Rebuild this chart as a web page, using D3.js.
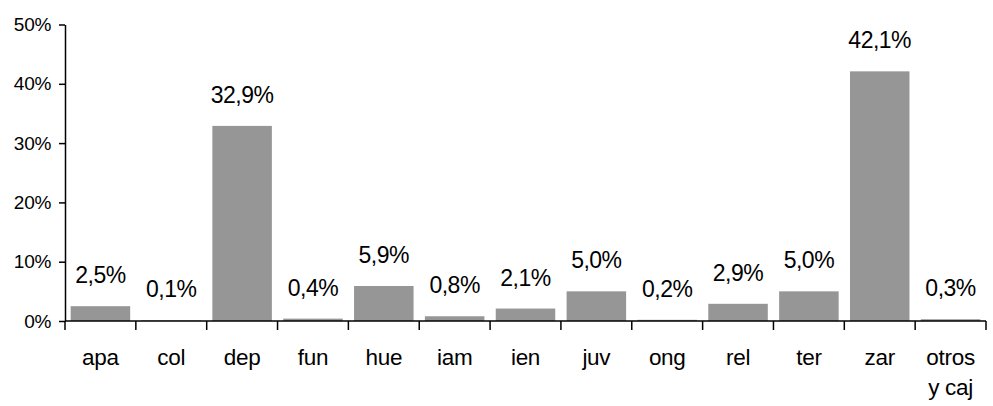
<!DOCTYPE html>
<html>
<head>
<meta charset="utf-8">
<script src="https://cdn.jsdelivr.net/npm/d3@7"></script>
<style>
    body { margin: 0; background: #fff; }
    text { font-family: "Liberation Sans", Arial, sans-serif; fill: #000; }
</style>
</head>
<body>
<svg id="chart" width="993" height="406"></svg>
<script>
const categories = ['apa', 'col', 'dep', 'fun', 'hue', 'iam', 'ien', 'juv', 'ong', 'rel', 'ter', 'zar', 'otros\ny caj'];
const values = [2.5, 0.1, 32.9, 0.4, 5.9, 0.8, 2.1, 5.0, 0.2, 2.9, 5.0, 42.1, 0.3];
const yTicks = [0, 10, 20, 30, 40, 50];

const MARGIN = {top: 24.5, right: 7, bottom: 85, left: 65};
const WIDTH = 993, HEIGHT = 406;

const svg = d3.select('#chart');

const xScale = d3.scaleBand()
    .domain(categories)
    .range([MARGIN.left, WIDTH - MARGIN.right])
    .paddingInner(0.16)
    .paddingOuter(0.08);

const yScale = d3.scaleLinear()
    .domain([0, 50])
    .range([HEIGHT - MARGIN.bottom, MARGIN.top]);

const fmt = v => d3.format('.1f')(v).replace('.', ',') + '%';

// bars
svg.append('g')
    .selectAll('rect')
    .data(values)
    .join('rect')
    .attr('x', (d, i) => xScale(categories[i]))
    .attr('y', d => yScale(d))
    .attr('width', xScale.bandwidth())
    .attr('height', d => yScale(0) - yScale(d))
    .attr('fill', '#969696');

// value labels
svg.append('g')
    .selectAll('text')
    .data(values)
    .join('text')
    .attr('x', (d, i) => xScale(categories[i]) + xScale.bandwidth() / 2)
    .attr('y', d => yScale(d) - 23)
    .attr('text-anchor', 'middle')
    .style('font-size', '23px')
    .style('letter-spacing', '-0.5px')
    .text(d => fmt(d));

// y axis
const yAxis = d3.axisLeft(yScale)
    .tickValues(yTicks)
    .tickSize(6)
    .tickSizeOuter(0)
    .tickPadding(8)
    .tickFormat(d => d + '%');
const gy = svg.append('g')
    .attr('transform', `translate(${MARGIN.left}, 0)`)
    .call(yAxis);
gy.selectAll('text').style('font-size', '19px').style('letter-spacing', '-0.3px');
gy.select('.domain').attr('stroke-width', 1.5);
gy.selectAll('.tick line').attr('stroke-width', 1.5);

// x axis: ticks at category boundaries
const xLine = d3.scaleLinear().domain([0, categories.length]).range([MARGIN.left, WIDTH - MARGIN.right]);
const bounds = d3.range(categories.length + 1);
const gx = svg.append('g')
    .attr('transform', `translate(0, ${yScale(0)})`);
gx.append('line')
    .attr('x1', xLine(0)).attr('x2', xLine(categories.length))
    .attr('stroke', '#000').attr('stroke-width', 1.5);
gx.selectAll('.tick')
    .data(bounds)
    .join('line')
    .attr('class', 'tick')
    .attr('x1', d => xLine(d)).attr('x2', d => xLine(d))
    .attr('y1', 0).attr('y2', 9)
    .attr('stroke', '#000').attr('stroke-width', 1.5);

gx.selectAll('.cat')
    .data(categories)
    .join('text')
    .attr('class', 'cat')
    .attr('text-anchor', 'middle')
    .style('font-size', '22.5px')
    .style('letter-spacing', '-0.3px')
    .attr('transform', d => `translate(${xScale(d) + xScale.bandwidth() / 2}, 44)`)
    .each(function (d) {
        d3.select(this).selectAll('tspan')
            .data(d.split('\n'))
            .join('tspan')
            .attr('x', 0)
            .attr('dy', (t, i) => i === 0 ? 0 : 30)
            .text(t => t);
    });
</script>
</body>
</html>
